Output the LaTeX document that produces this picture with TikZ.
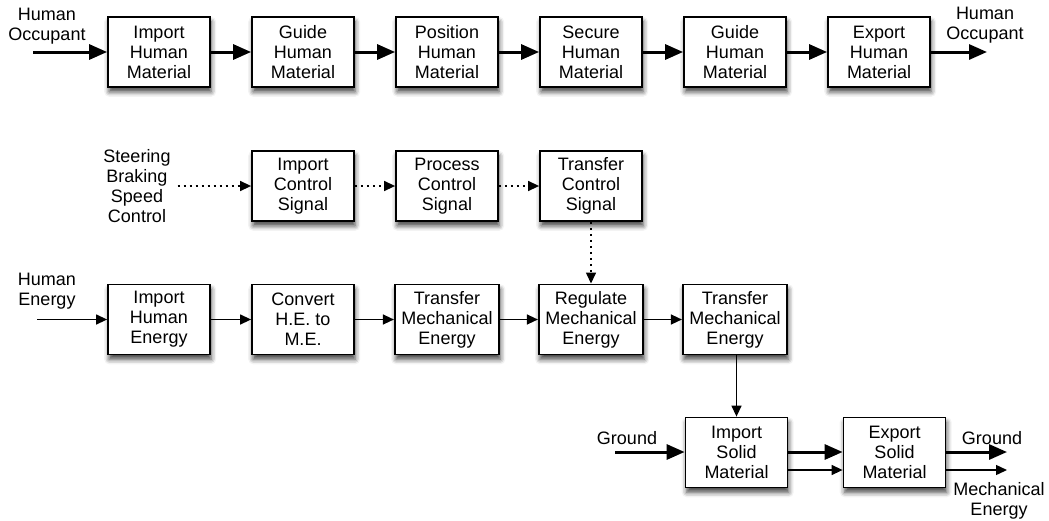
\documentclass[tikz,border=0pt]{standalone}
\usepackage{fontspec}
\setmainfont{Liberation Sans}
\usetikzlibrary{arrows.meta,shadows.blur}
\tikzset{
  fn/.style={draw,line width=0.9pt,fill=white,minimum width=51pt,minimum height=35pt,align=center,
    font=\fontsize{9}{10}\selectfont,
    blur shadow={shadow xshift=0.6pt,shadow yshift=-2.4pt,shadow blur radius=2.5pt,shadow opacity=75}},
  lbl/.style={align=center,font=\fontsize{9}{10}\selectfont},
  mat/.style={-{Triangle[length=9pt,width=7.5pt]},line width=1.5pt},
  nrg/.style={-{Triangle[length=5.5pt,width=5pt]},line width=0.7pt},
  sig/.style={nrg,dash pattern=on 1pt off 2pt},
}
\begin{document}
\begin{tikzpicture}[x=0.5pt,y=-0.5pt]
\useasboundingbox (0,0) rectangle (1049,520);
\foreach \i/\t in {1/Import,2/Guide,3/Position,4/Secure,5/Guide,6/Export}
  \node[fn] (h\i) at ({15+144*\i},52) {\t\\Human\\Material};
\foreach \a/\b in {h1/h2,h2/h3,h3/h4,h4/h5,h5/h6}
  \draw[mat] (\a) -- (\b);
\node[lbl] (occl) at (47,26) {Human\\Occupant};
\node[lbl] (occr) at (985,25) {Human\\Occupant};
\coordinate (occin) at (33,52);
\coordinate (occout) at (987,52);
\draw[mat] (occin) -- (h1);
\draw[mat] (h6) -- (occout);
\node[fn] (c1) at (303,186) {Import\\Control\\Signal};
\node[fn] (c2) at (447,186) {Process\\Control\\Signal};
\node[fn] (c3) at (591,186) {Transfer\\Control\\Signal};
\node[lbl] (steer) at (137,186) {Steering\\Braking\\Speed\\Control};
\draw[sig] (steer) -- (c1);
\draw[sig] (c1) -- (c2);
\draw[sig] (c2) -- (c3);
\node[fn] (e1) at (159,319.5) {Import\\Human\\Energy};
\node[fn] (e2) at (303,319.5) {Convert\\H.E. to\\M.E.};
\node[fn] (e3) at (447,319.5) {Transfer\\Mechanical\\Energy};
\node[fn] (e4) at (591,319.5) {Regulate\\Mechanical\\Energy};
\node[fn] (e5) at (735,319.5) {Transfer\\Mechanical\\Energy};
\draw[sig] (c3) -- (e4);
\node[lbl] (hen) at (47,291) {Human\\Energy};
\coordinate (henin) at (37,319.5);
\draw[nrg] (henin) -- (e1);
\foreach \a/\b in {e1/e2,e2/e3,e3/e4,e4/e5}
  \draw[nrg] (\a) -- (\b);
\node[fn] (s1) at (736.5,452.5) {Import\\Solid\\Material};
\node[fn] (s2) at (894.5,452.5) {Export\\Solid\\Material};
\draw[nrg] (e5.south -| s1) -- (s1);
\node[lbl] (gndl) at (627,438) {Ground};
\node[lbl] (gndr) at (992,438) {Ground};
\node[lbl] (mer) at (999,501) {Mechanical\\Energy};
\coordinate (gndin) at (615,452);
\coordinate (gndout) at (1007,452);
\coordinate (meout) at (1007,470);
\draw[mat] (gndin) -- (gndin -| s1.west);
\draw[mat] (s1.east |- gndin) -- (s2.west |- gndin);
\draw[nrg] (s1.east |- meout) -- (s2.west |- meout);
\draw[mat] (s2.east |- gndout) -- (gndout);
\draw[nrg] (s2.east |- meout) -- (meout);
\end{tikzpicture}
\end{document}
